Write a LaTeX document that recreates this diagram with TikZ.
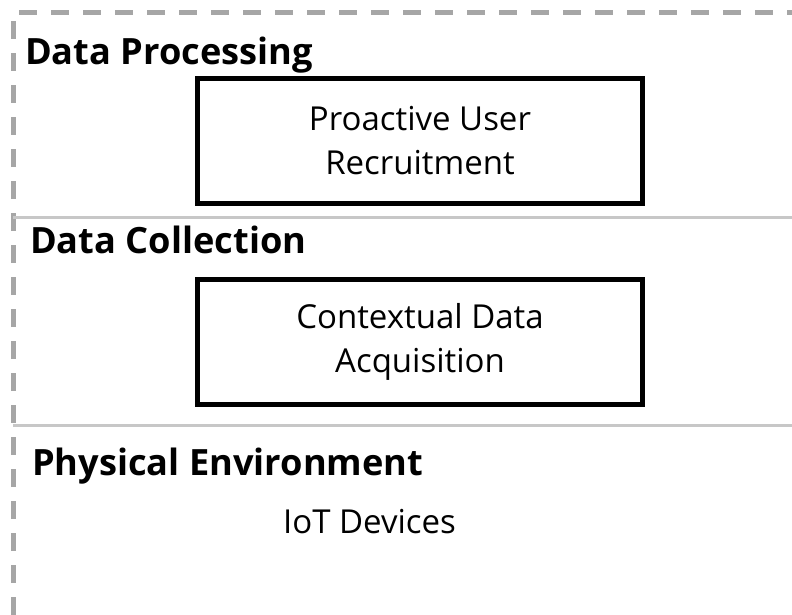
\documentclass[tikz,border=0pt]{standalone}
\usepackage{fontspec}
\setmainfont{Open Sans}
\usetikzlibrary{positioning}
\tikzset{
  layer/.style={font=\fontsize{36.2}{42}\selectfont\bfseries, anchor=base west, inner sep=0pt},
  module/.style={draw=black, line width=4.5pt, minimum width=445pt, minimum height=125pt,
    align=center, inner sep=0pt, font=\fontsize{33}{44}\selectfont},
  item/.style={font=\fontsize{33}{44}\selectfont, anchor=base west, inner sep=0pt},
  divider/.style={draw=black!22, line width=3pt},
  frame/.style={draw=black!35, line width=5pt, dash pattern=on 18pt off 14pt}
}
\begin{document}
\begin{tikzpicture}[x=1pt, y=-1pt]
  \useasboundingbox (0,0) rectangle (792,615);
  % outer dashed frame (cut at right and bottom)
  \coordinate (frameBL) at (13,615);
  \coordinate (frameTL) at (13,13);
  \coordinate (frameTR) at (792,13);
  \draw[frame] (frameBL) -- (frameTL) -- (frameTR);
  % layer dividers
  \coordinate (divA) at (13,217);
  \coordinate (divAend) at (792,217);
  \coordinate (divB) at (13,425);
  \coordinate (divBend) at (792,425);
  \draw[divider] (divA) -- (divAend);
  \draw[divider] (divB) -- (divBend);
  % layers
  \node[layer] (proc) at (25,65) {Data Processing};
  \node[module] (recruit) at (420,141) {Proactive User\\Recruitment};
  \node[layer] (coll) at (30,253) {Data Collection};
  \node[module] (acquire) at (420,342) {Contextual Data\\Acquisition};
  \node[layer] (phys) at (32,475) {Physical Environment};
  \node[item] (iot) at (283,533) {IoT Devices};
\end{tikzpicture}
\end{document}
